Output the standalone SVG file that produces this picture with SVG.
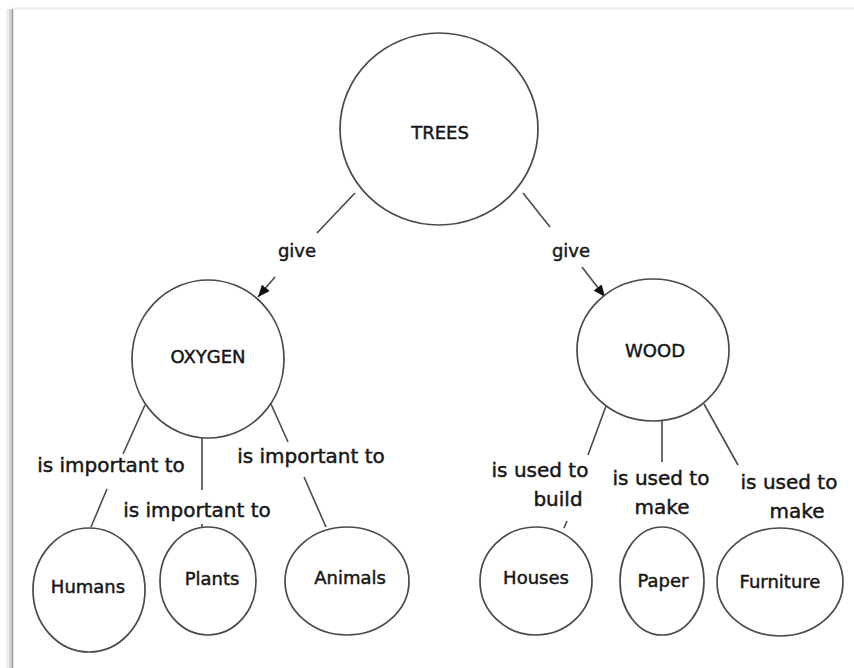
<svg xmlns="http://www.w3.org/2000/svg" width="854" height="668" viewBox="0 0 854 668">
<defs>
<style>
.node{fill:#fff;stroke:#4a4a4a;stroke-width:1.7}
.lbl{font-family:"DejaVu Sans",Verdana,sans-serif;font-size:18px;fill:#161616;stroke:#161616;stroke-width:0.45;text-anchor:middle}
.lnk{font-family:"DejaVu Sans",Verdana,sans-serif;font-size:20px;fill:#161616;stroke:#161616;stroke-width:0.45;text-anchor:middle}
.give{font-size:18px}
.conn line{stroke:#4a4a4a;stroke-width:1.6}
</style>
<marker id="arr" viewBox="0 0 12 10" refX="12" refY="5" markerWidth="12" markerHeight="10" markerUnits="userSpaceOnUse" orient="auto">
<path d="M0,0 L12,5 L0,10 Z" fill="#111"/>
</marker>
</defs>
<rect width="854" height="668" fill="#fff"/>
<g id="frame">
<rect x="6" y="9" width="6" height="659" fill="#eeeeee"/>
<rect x="9" y="9" width="3" height="659" fill="#d6d6d6"/>
<line x1="12.5" y1="8" x2="12.5" y2="668" stroke="#9a9a9a" stroke-width="1.5"/>
<line x1="12" y1="8.5" x2="854" y2="8.5" stroke="#ececec" stroke-width="2"/>
</g>
<g id="connectors" class="conn">
<line x1="355" y1="193" x2="317" y2="233"/>
<line x1="275" y1="277" x2="258" y2="297" marker-end="url(#arr)"/>
<line x1="523" y1="193" x2="550" y2="227"/>
<line x1="582" y1="267" x2="605" y2="297" marker-end="url(#arr)"/>
<line x1="145" y1="405" x2="123" y2="454"/>
<line x1="107" y1="489" x2="91" y2="527"/>
<line x1="202" y1="438" x2="202" y2="490"/>
<line x1="202" y1="524" x2="202" y2="528"/>
<line x1="271" y1="404" x2="288" y2="442"/>
<line x1="304" y1="477" x2="326" y2="527"/>
<line x1="606" y1="406" x2="588" y2="455"/>
<line x1="567" y1="521" x2="564" y2="528"/>
<line x1="662" y1="420" x2="662" y2="462"/>
<line x1="704" y1="404" x2="738" y2="465"/>
</g>
<g id="link-labels">
<text class="lnk give" x="297" y="257">give</text>
<text class="lnk give" x="571" y="257">give</text>
<text class="lnk" x="111" y="472">is important to</text>
<text class="lnk" x="197" y="517">is important to</text>
<text class="lnk" x="311" y="463">is important to</text>
<text class="lnk" x="540" y="477">is used to</text>
<text class="lnk" x="558" y="506">build</text>
<text class="lnk" x="661" y="485">is used to</text>
<text class="lnk" x="662" y="514">make</text>
<text class="lnk" x="789" y="489">is used to</text>
<text class="lnk" x="797" y="518">make</text>
</g>
<g id="trees"><ellipse class="node" cx="439" cy="129" rx="99" ry="96"/><text class="lbl" x="440" y="139">TREES</text></g>
<g id="oxygen"><ellipse class="node" cx="208" cy="359" rx="76" ry="79"/><text class="lbl" x="208" y="363">OXYGEN</text></g>
<g id="wood"><ellipse class="node" cx="653" cy="350" rx="76" ry="71"/><text class="lbl" x="655" y="357">WOOD</text></g>
<g id="humans"><ellipse class="node" cx="89" cy="590" rx="56" ry="62"/><text class="lbl" x="88" y="593">Humans</text></g>
<g id="plants"><ellipse class="node" cx="208" cy="581" rx="48" ry="54"/><text class="lbl" x="212" y="585">Plants</text></g>
<g id="animals"><ellipse class="node" cx="347" cy="581" rx="62" ry="54"/><text class="lbl" x="350" y="584">Animals</text></g>
<g id="houses"><ellipse class="node" cx="536" cy="581" rx="56" ry="54"/><text class="lbl" x="536" y="584">Houses</text></g>
<g id="paper"><ellipse class="node" cx="662" cy="581" rx="42" ry="54"/><text class="lbl" x="663" y="587">Paper</text></g>
<g id="furniture"><ellipse class="node" cx="780" cy="582" rx="63" ry="54"/><text class="lbl" x="780" y="588">Furniture</text></g>
</svg>
